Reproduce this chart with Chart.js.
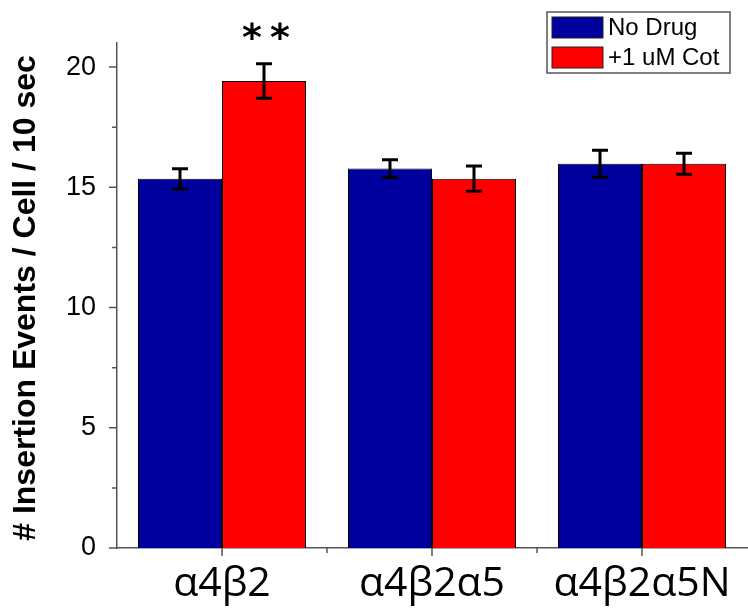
<!DOCTYPE html>
<html>
<head>
<meta charset="utf-8">
<script src="https://cdn.jsdelivr.net/npm/chart.js@4.4.0/dist/chart.umd.min.js"></script>
<style>
  html, body { margin: 0; padding: 0; background: #fff; }
  #wrap { width: 748px; height: 612px; position: relative; }
</style>
</head>
<body>
<div id="wrap"><canvas id="myChart"></canvas></div>
<script>
// data
var categories = ['α4β2', 'α4β2α5', 'α4β2α5N'];
var noDrug = [15.35, 15.78, 15.98];
var noDrugErr = [0.42, 0.37, 0.56];
var cotinine = [19.42, 15.36, 15.98];
var cotinineErr = [0.72, 0.53, 0.44];
var significance = ['**', '', ''];
var yTicks = [0, 5, 10, 15, 20];
var yTitle = '# Insertion Events / Cell / 10 sec';

var errors = [noDrugErr, cotinineErr];

// error bars
var errorBars = {
    id: 'errorBars',
    afterDatasetsDraw: function (chart) {
        var ctx = chart.ctx;
        var yScale = chart.scales.y;
        ctx.save();
        ctx.strokeStyle = '#000';
        ctx.lineWidth = 3;
        chart.data.datasets.forEach(function (ds, i) {
            var meta = chart.getDatasetMeta(i);
            meta.data.forEach(function (bar, j) {
                var v = ds.data[j];
                var e = errors[i][j];
                var yTop = yScale.getPixelForValue(v + e);
                var yBot = yScale.getPixelForValue(v - e);
                ctx.beginPath();
                ctx.moveTo(bar.x, yTop);
                ctx.lineTo(bar.x, yBot);
                ctx.moveTo(bar.x - 8, yTop);
                ctx.lineTo(bar.x + 8, yTop);
                ctx.moveTo(bar.x - 8, yBot);
                ctx.lineTo(bar.x + 8, yBot);
                ctx.stroke();
            });
        });
        // significance stars above the cotinine bars, spaced out a bit
        ctx.fillStyle = '#000';
        ctx.font = 'bold 38px "DejaVu Sans"';
        ctx.textAlign = 'center';
        ctx.textBaseline = 'middle';
        var meta1 = chart.getDatasetMeta(1);
        significance.forEach(function (s, j) {
            if (!s) return;
            var bar = meta1.data[j];
            var y = yScale.getPixelForValue(cotinine[j] + cotinineErr[j]) - 24;
            var gap = 28;
            var x0 = bar.x + 2 - gap * (s.length - 1) / 2;
            for (var c = 0; c < s.length; c++) {
                ctx.fillText(s[c], x0 + c * gap, y);
            }
        });
        ctx.restore();
    }
};

// tick marks (major + minor) and the y title
var axisExtras = {
    id: 'axisExtras',
    afterDraw: function (chart) {
        var ctx = chart.ctx;
        var x = chart.scales.x, y = chart.scales.y;
        var area = chart.chartArea;
        ctx.save();
        ctx.strokeStyle = '#555';
        ctx.lineWidth = 1.5;
        ctx.beginPath();
        for (var k = 0; k < yTicks.length; k++) {
            var py = y.getPixelForValue(yTicks[k]);
            ctx.moveTo(area.left, py);
            ctx.lineTo(area.left - 8, py);
            if (k < yTicks.length - 1) {
                var pm = y.getPixelForValue((yTicks[k] + yTicks[k + 1]) / 2);
                ctx.moveTo(area.left, pm);
                ctx.lineTo(area.left - 5, pm);
            }
        }
        for (var c = 0; c < categories.length; c++) {
            var px = x.getPixelForValue(c);
            ctx.moveTo(px, area.bottom);
            ctx.lineTo(px, area.bottom + 8);
            if (c < categories.length - 1) {
                var pb = (px + x.getPixelForValue(c + 1)) / 2;
                ctx.moveTo(pb, area.bottom);
                ctx.lineTo(pb, area.bottom + 5);
            }
        }
        ctx.stroke();

        ctx.translate(26, 298);
        ctx.rotate(-Math.PI / 2);
        ctx.fillStyle = '#000';
        ctx.font = 'bold 32px "Liberation Sans"';
        ctx.textAlign = 'center';
        ctx.textBaseline = 'middle';
        ctx.fillText(yTitle, 0, 0);
        ctx.restore();
    }
};

// boxed legend in the top right
var boxLegend = {
    id: 'boxLegend',
    afterDraw: function (chart) {
        var ctx = chart.ctx;
        var bx = 547, by = 12, bw = 183, bh = 61;
        ctx.save();
        ctx.fillStyle = '#fff';
        ctx.fillRect(bx, by, bw, bh);
        ctx.strokeStyle = '#555';
        ctx.lineWidth = 1.5;
        ctx.strokeRect(bx, by, bw, bh);
        ctx.font = '24px "Liberation Sans"';
        ctx.textBaseline = 'middle';
        ctx.textAlign = 'left';
        chart.data.datasets.forEach(function (ds, i) {
            var ry = by + 5 + i * 30;
            ctx.fillStyle = ds.backgroundColor;
            ctx.fillRect(bx + 5, ry, 51, 21);
            ctx.strokeStyle = '#222';
            ctx.lineWidth = 1;
            ctx.strokeRect(bx + 5, ry, 51, 21);
            ctx.fillStyle = '#000';
            ctx.fillText(ds.label, bx + 61, ry + 11);
        });
        ctx.restore();
    }
};

var chart = new Chart(document.getElementById('myChart'), {
    type: 'bar',
    data: {
        labels: categories,
        datasets: [{
            label: 'No Drug',
            data: noDrug,
            backgroundColor: '#00009f',
            borderColor: '#000',
            borderWidth: 1,
            barPercentage: 1,
            categoryPercentage: 0.8
        }, {
            label: '+1 uM Cot',
            data: cotinine,
            backgroundColor: '#ff0000',
            borderColor: '#000',
            borderWidth: 1,
            barPercentage: 1,
            categoryPercentage: 0.8
        }]
    },
    options: {
        responsive: true,
        maintainAspectRatio: false,
        animation: false,
        layout: { padding: { top: 43, right: 1, left: 0, bottom: 0 } },
        plugins: {
            legend: { display: false },
            tooltip: { enabled: false }
        },
        scales: {
            x: {
                offset: true,
                grid: { display: false },
                border: { display: true, color: '#555', width: 1.5 },
                ticks: {
                    color: '#000',
                    padding: 4,
                    font: { family: '"Open Sans"', size: 41 }
                },
                afterFit: function (s) { s.height = 64; }
            },
            y: {
                min: 0,
                max: 21,
                grid: { display: false },
                border: { display: true, color: '#555', width: 1.5 },
                ticks: {
                    stepSize: 5,
                    includeBounds: false,
                    color: '#000',
                    padding: 13,
                    font: { family: '"Liberation Sans"', size: 27 }
                },
                afterFit: function (s) { s.width = 117; }
            }
        }
    },
    plugins: [errorBars, axisExtras, boxLegend]
});
</script>
</body>
</html>
